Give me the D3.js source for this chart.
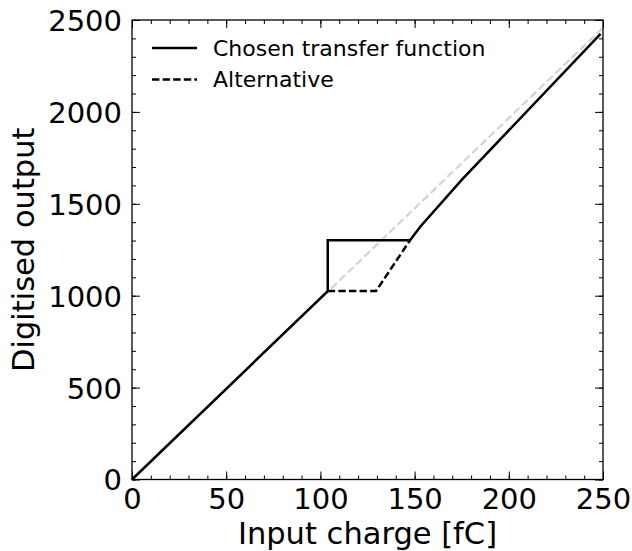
<!DOCTYPE html>
<html><head><meta charset="utf-8">
<script src="https://cdn.jsdelivr.net/npm/d3@7"></script>
<style>body{margin:0;background:#fff}svg{display:block;font-family:"DejaVu Sans",sans-serif}</style>
</head><body><svg id="c" width="632" height="551"></svg>
<script>
// Data
const chosenX = [0, 103.9, 103.9, 147.6, 153, 175, 248.7];
const chosenY = [0, 1025, 1302, 1302, 1375, 1630, 2424];
const altX = [103.9, 129.5, 147.6];
const altY = [1025, 1025, 1302];
const refX = [0, 249.7];
const refY = [0, 2455];
const xTicks = [0, 50, 100, 150, 200, 250];
const yTicks = [0, 500, 1000, 1500, 2000, 2500];
const legendLabels = ["Chosen transfer function", "Alternative"];

const svg = d3.select("#c");
const L = 132, R = 603, T = 20, B = 479.5;
const x = d3.scaleLinear().domain([0, 250]).range([L, R]);
const y = d3.scaleLinear().domain([0, 2500]).range([B, T]);

const zip = (a, b) => a.map((v, i) => [v, b[i]]);
const line = d3.line().x(d => x(d[0])).y(d => y(d[1]));

const g = svg.append("g");
g.append("path").datum(zip(refX, refY)).attr("d", line)
  .attr("fill", "none").attr("stroke", "#d3d3d3").attr("stroke-width", 2.2).attr("stroke-dasharray", "8,3.5");
g.append("path").datum(zip(altX, altY)).attr("d", line)
  .attr("fill", "none").attr("stroke", "#000").attr("stroke-width", 2.5).attr("stroke-dasharray", "7.4,3.2");
g.append("path").datum(zip(chosenX, chosenY)).attr("d", line)
  .attr("fill", "none").attr("stroke", "#000").attr("stroke-width", 2.5).attr("stroke-linejoin", "miter");

// axes with inward ticks on all sides
const fs = 29;
function styleAxis(sel) { sel.select(".domain").remove(); sel.selectAll("line").attr("stroke", "#000").attr("stroke-width", 1); }
const xMinor = d3.range(0, 251, 10), yMinor = d3.range(0, 2501, 100);
// bottom
svg.append("g").attr("transform", `translate(0,${B})`)
  .call(d3.axisBottom(x).tickValues(xMinor).tickSize(-4).tickFormat("")).call(styleAxis);
svg.append("g").attr("transform", `translate(0,${B})`)
  .call(d3.axisBottom(x).tickValues(xTicks).tickSize(-8).tickPadding(0).tickFormat(d3.format("d")))
  .call(styleAxis)
  .call(s => s.selectAll("text").attr("y", 29).attr("dy", null).attr("font-size", fs).attr("fill", "#000").attr("font-family", "DejaVu Sans"));
// top
svg.append("g").attr("transform", `translate(0,${T})`)
  .call(d3.axisTop(x).tickValues(xMinor).tickSize(-4).tickFormat("")).call(styleAxis);
svg.append("g").attr("transform", `translate(0,${T})`)
  .call(d3.axisTop(x).tickValues(xTicks).tickSize(-8).tickFormat("")).call(styleAxis);
// left
svg.append("g").attr("transform", `translate(${L},0)`)
  .call(d3.axisLeft(y).tickValues(yMinor).tickSize(-4).tickFormat("")).call(styleAxis);
svg.append("g").attr("transform", `translate(${L},0)`)
  .call(d3.axisLeft(y).tickValues(yTicks).tickSize(-8).tickFormat(d3.format("d")))
  .call(styleAxis)
  .call(s => s.selectAll("text").attr("x", -10).attr("dy", "0.36em").attr("font-size", fs).attr("fill", "#000").attr("font-family", "DejaVu Sans"));
// right
svg.append("g").attr("transform", `translate(${R},0)`)
  .call(d3.axisRight(y).tickValues(yMinor).tickSize(-4).tickFormat("")).call(styleAxis);
svg.append("g").attr("transform", `translate(${R},0)`)
  .call(d3.axisRight(y).tickValues(yTicks).tickSize(-8).tickFormat("")).call(styleAxis);

svg.append("rect").attr("x", L).attr("y", T).attr("width", R - L).attr("height", B - T)
  .attr("fill", "none").attr("stroke", "#000").attr("stroke-width", 1.3);

// axis labels
svg.append("text").attr("x", (L + R) / 2).attr("y", 544).attr("text-anchor", "middle")
  .attr("font-size", 30.5).text("Input charge [fC]");
svg.append("text").attr("transform", `translate(34,${(T + B) / 2}) rotate(-90)`).attr("text-anchor", "middle")
  .attr("font-size", 30.5).text("Digitised output");

// legend
const leg = svg.append("g");
legendLabels.forEach((lab, i) => {
  const yy = 48 + i * 31.5;
  leg.append("line").attr("x1", 152).attr("x2", 197).attr("y1", yy).attr("y2", yy)
    .attr("stroke", "#000").attr("stroke-width", 2.5).attr("stroke-dasharray", i ? "7.4,3.2" : null);
  leg.append("text").attr("x", 213).attr("y", yy).attr("dy", "0.36em").attr("font-size", 22).text(lab);
});
</script></body></html>
